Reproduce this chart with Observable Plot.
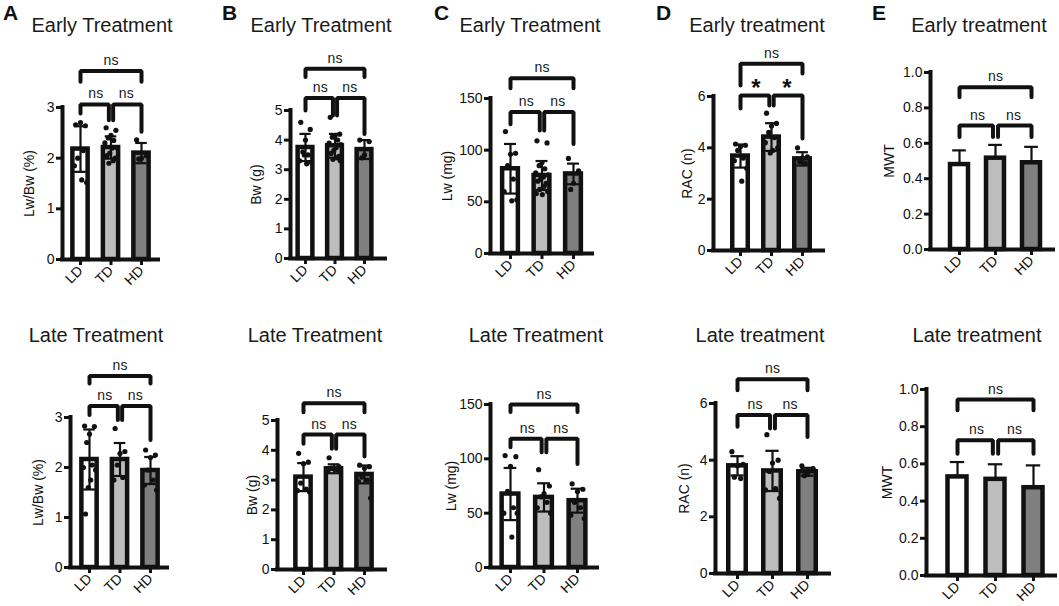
<!DOCTYPE html>
<html>
<head>
<meta charset="utf-8">
<script src="https://cdn.jsdelivr.net/npm/d3@7"></script>
<script src="https://cdn.jsdelivr.net/npm/@observablehq/plot@0.6"></script>
<style>
  html, body { margin: 0; padding: 0; background: #fff; }
  #fig { position: relative; width: 1059px; height: 606px; overflow: hidden; font-family: "Liberation Sans", Arial, Helvetica, sans-serif; color: #111; }
  .panel { position: absolute; }
  .title { position: absolute; font-size: 20px; line-height: 20px; white-space: nowrap; transform: translateX(-50%); color: #1a1a1a; }
  .letter { position: absolute; font-size: 21px; line-height: 21px; font-weight: bold; color: #111; }
</style>
</head>
<body>
<div id="fig"></div>
<script>
// ---------------- DATA ----------------
const groups = ["LD", "TD", "HD"];
const groupFills = ["#ffffff", "#bdbdbd", "#7f7f7f"];

// A — Lw/Bw (%)
const earlyLwBwMean = [2.18, 2.21, 2.10];
const earlyLwBwSD = [0.45, 0.22, 0.20];
const earlyLwBwPoints = [
  [2.66, 2.64, 2.70, 2.00, 2.15, 1.85, 1.52, 1.57],
  [2.60, 2.55, 2.45, 2.40, 2.35, 2.30, 2.20, 2.20, 2.10, 2.05, 2.00, 1.95, 1.90],
  [2.36, 2.05, 2.00, 1.98]
];
const lateLwBwMean = [2.16, 2.16, 1.94];
const lateLwBwSD = [0.60, 0.33, 0.27];
const lateLwBwPoints = [
  [2.83, 2.82, 2.67, 2.50, 2.05, 2.00, 1.95, 1.75, 1.60, 1.07],
  [2.78, 2.32, 2.28, 2.05, 1.80, 1.75],
  [2.35, 2.25, 2.20, 1.95, 1.75, 1.65, 1.55]
];

// B — Bw (g)
const earlyBwMean = [3.75, 3.81, 3.68];
const earlyBwSD = [0.46, 0.40, 0.32];
const earlyBwPoints = [
  [4.60, 4.36, 4.00, 3.60, 3.50, 3.30, 3.25, 3.20, 3.50],
  [4.77, 4.20, 4.15, 4.10, 4.00, 3.90, 3.85, 3.75, 3.65, 3.55, 3.45, 3.40, 3.35, 3.30],
  [4.00, 3.95, 3.50, 3.40]
];
const lateBwMean = [3.10, 3.38, 3.19];
const lateBwSD = [0.47, 0.15, 0.30];
const lateBwPoints = [
  [3.90, 3.60, 3.55, 2.90, 2.70, 2.65, 2.60],
  [3.75, 3.45, 3.40, 3.40, 3.35, 3.30, 3.30],
  [3.50, 3.45, 3.40, 3.10, 3.00, 2.95, 2.40]
];

// C — Lw (mg)
const earlyLwMean = [82, 75.5, 77];
const earlyLwSD = [24, 14, 10];
const earlyLwPoints = [
  [118, 97, 96, 85, 72, 60, 52, 51],
  [109, 107, 88, 85, 82, 78, 76, 74, 72, 70, 68, 65, 62, 60, 58, 57],
  [92, 80, 68, 62]
];
const lateLwMean = [67.6, 64.5, 61.5];
const lateLwSD = [24, 13, 11];
const lateLwPoints = [
  [103, 102, 93, 70, 55, 50, 50, 28],
  [90, 75, 68, 65, 60, 55, 50],
  [77, 72, 70, 60, 55, 48, 45]
];

// D — RAC (n)
const earlyRacMean = [3.68, 4.42, 3.57];
const earlyRacSD = [0.45, 0.54, 0.26];
const earlyRacPoints = [
  [4.15, 4.10, 4.05, 3.90, 3.60, 3.50, 3.20, 2.70],
  [5.35, 4.95, 4.85, 4.60, 4.40, 4.20, 4.00, 3.90, 3.80],
  [4.00, 3.65, 3.60, 3.45, 3.40]
];
const lateRacMean = [3.80, 3.62, 3.59];
const lateRacSD = [0.34, 0.71, 0.14];
const lateRacPoints = [
  [4.30, 3.85, 3.80, 3.40, 3.35],
  [4.90, 4.00, 3.90, 3.60, 3.00, 2.95, 2.65],
  [3.80, 3.70, 3.50, 3.45]
];

// E — MWT
const earlyMwtMean = [0.48, 0.516, 0.49];
const earlyMwtSD = [0.08, 0.075, 0.09];
const lateMwtMean = [0.53, 0.517, 0.472];
const lateMwtSD = [0.08, 0.081, 0.12];

// significance labels: [LD–HD, LD–TD, TD–HD]
const sigEarlyLwBw = ["ns", "ns", "ns"];
const sigLateLwBw = ["ns", "ns", "ns"];
const sigEarlyBw = ["ns", "ns", "ns"];
const sigLateBw = ["ns", "ns", "ns"];
const sigEarlyLw = ["ns", "ns", "ns"];
const sigLateLw = ["ns", "ns", "ns"];
const sigEarlyRac = ["ns", "*", "*"];
const sigLateRac = ["ns", "ns", "ns"];
const sigEarlyMwt = ["ns", "ns", "ns"];
const sigLateMwt = ["ns", "ns", "ns"];

// y ticks
const ticksLwBw = [0, 1, 2, 3];
const ticksBw = [0, 1, 2, 3, 4, 5];
const ticksLw = [0, 50, 100, 150];
const ticksRac = [0, 2, 4, 6];
const ticksMwt = [0, 0.2, 0.4, 0.6, 0.8, 1.0];

// ---------------- LAYOUT ----------------
// page-pixel geometry per panel; bracket heights in data units:
// br: [[h, footFrom, footTo] for LD–HD, LD–TD, TD–HD]
const panels = [
  {letter: "A", title: "Early Treatment", tx: 102, row: 0, left: 0, w: 210,
   axisX: 62, xEnd: 158, yZero: 259, yTop: 107, cLD: 80, cHD: 141, labelLeft: 24,
   mean: earlyLwBwMean, sd: earlyLwBwSD, pts: earlyLwBwPoints, sig: sigEarlyLwBw, ticks: ticksLwBw, yMax: 3, ylabel: "Lw/Bw (%)",
   br: [[3.72, 3.51, 3.51], [3.06, 2.88, 2.75], [3.06, 2.75, 2.52]]},
  {letter: "B", title: "Early Treatment", tx: 321, row: 0, left: 210, w: 210,
   axisX: 290, xEnd: 385, yZero: 258, yTop: 110, cLD: 305, cHD: 364, labelLeft: 251,
   mean: earlyBwMean, sd: earlyBwSD, pts: earlyBwPoints, sig: sigEarlyBw, ticks: ticksBw, yMax: 5, ylabel: "Bw (g)",
   br: [[6.41, 6.13, 6.13], [5.42, 5.0, 4.83], [5.42, 4.83, 4.21]]},
  {letter: "C", title: "Early Treatment", tx: 530, row: 0, left: 420, w: 210,
   axisX: 490, xEnd: 592, yZero: 253, yTop: 98, cLD: 510, cHD: 573, labelLeft: 442,
   mean: earlyLwMean, sd: earlyLwSD, pts: earlyLwPoints, sig: sigEarlyLw, ticks: ticksLw, yMax: 150, ylabel: "Lw (mg)",
   br: [[169.6, 160, 160], [137, 125, 119], [137, 119, 106]]},
  {letter: "D", title: "Early treatment", tx: 757, row: 0, left: 630, w: 210,
   axisX: 713, xEnd: 823, yZero: 250, yTop: 96, cLD: 740, cHD: 802, labelLeft: 682,
   mean: earlyRacMean, sd: earlyRacSD, pts: earlyRacPoints, sig: sigEarlyRac, ticks: ticksRac, yMax: 6, ylabel: "RAC (n)",
   br: [[7.28, 6.43, 6.9], [6.04, 5.53, 5.65], [6.04, 5.65, 4.36]]},
  {letter: "E", title: "Early treatment", tx: 979, row: 0, left: 840, w: 219,
   axisX: 930, xEnd: 1053, yZero: 249, yTop: 72, cLD: 959, cHD: 1031, labelLeft: 884,
   mean: earlyMwtMean, sd: earlyMwtSD, pts: null, sig: sigEarlyMwt, ticks: ticksMwt, yMax: 1, ylabel: "MWT", fmt: ".1f",
   br: [[0.917, 0.86, 0.86], [0.70, 0.635, 0.635], [0.70, 0.635, 0.635]]},

  {letter: "", title: "Late Treatment", tx: 96, row: 1, left: 0, w: 210,
   axisX: 70, xEnd: 167, yZero: 567, yTop: 417, cLD: 89, cHD: 150, labelLeft: 33,
   mean: lateLwBwMean, sd: lateLwBwSD, pts: lateLwBwPoints, sig: sigLateLwBw, ticks: ticksLwBw, yMax: 3, ylabel: "Lw/Bw (%)",
   br: [[3.83, 3.68, 3.68], [3.23, 3.05, 2.95], [3.23, 2.95, 2.55]]},
  {letter: "", title: "Late Treatment", tx: 315, row: 1, left: 210, w: 210,
   axisX: 277, xEnd: 385, yZero: 569, yTop: 420, cLD: 303, cHD: 364, labelLeft: 247,
   mean: lateBwMean, sd: lateBwSD, pts: lateBwPoints, sig: sigLateBw, ticks: ticksBw, yMax: 5, ylabel: "Bw (g)",
   br: [[5.58, 5.28, 5.28], [4.53, 4.22, 4.05], [4.53, 4.05, 3.79]]},
  {letter: "", title: "Late Treatment", tx: 536, row: 1, left: 420, w: 210,
   axisX: 490, xEnd: 597, yZero: 567, yTop: 404, cLD: 510, cHD: 577, labelLeft: 446,
   mean: lateLwMean, sd: lateLwSD, pts: lateLwPoints, sig: sigLateLw, ticks: ticksLw, yMax: 150, ylabel: "Lw (mg)",
   br: [[150, 143, 143], [118.4, 110.7, 106], [118.4, 106, 95.3]]},
  {letter: "", title: "Late treatment", tx: 760, row: 1, left: 630, w: 210,
   axisX: 715, xEnd: 829, yZero: 573, yTop: 403, cLD: 737, cHD: 807, labelLeft: 679,
   mean: lateRacMean, sd: lateRacSD, pts: lateRacPoints, sig: sigLateRac, ticks: ticksRac, yMax: 6, ylabel: "RAC (n)",
   br: [[6.86, 6.47, 6.47], [5.59, 5.18, 5.12], [5.59, 5.12, 4.82]]},
  {letter: "", title: "Late treatment", tx: 977, row: 1, left: 840, w: 219,
   axisX: 926, xEnd: 1055, yZero: 575, yTop: 389, cLD: 957, cHD: 1033, labelLeft: 882,
   mean: lateMwtMean, sd: lateMwtSD, pts: null, sig: sigLateMwt, ticks: ticksMwt, yMax: 1, ylabel: "MWT", fmt: ".1f",
   br: [[0.946, 0.889, 0.889], [0.727, 0.655, 0.655], [0.727, 0.655, 0.655]]}
];

const rowTop = [0, 300];
const rowH = [300, 306];
const titleTop = [15, 325];
const letterPos = {A: 3, B: 222, C: 434, D: 656, E: 872};

// deterministic horizontal spread of dots inside each bar
const spread = [-0.16, 0.16, 0, -0.09, 0.09, -0.2, 0.2, 0.04, -0.04, -0.13, 0.13, 0.07, -0.07, 0.18, -0.18, 0.01];

const fig = document.getElementById("fig");
const FONT = '"Liberation Sans", Arial, Helvetica, sans-serif';

for (const p of panels) {
  const top = rowTop[p.row], h = rowH[p.row];
  const idx = [0, 1, 2];
  const bars = idx.map(i => ({i, mean: p.mean[i], sd: p.sd[i], fill: groupFills[i]}));
  const dots = p.pts ? p.pts.flatMap((arr, i) => arr.map((v, k) => ({x: i + spread[k % spread.length], y: v}))) : [];
  const pairs = [[0, 2], [0, 1], [1, 2]];
  const brackets = pairs.map(([a, b], k) => {
    const offA = a === 1 ? 0.07 : 0, offB = b === 1 ? -0.07 : 0;
    const [hh, fA, fB] = p.br[k];
    return {k, a, b, xa: a + offA, xb: b + offB, h: hh, fA, fB, label: p.sig[k]};
  });
  const bracketPts = brackets.flatMap(d => [
    {k: d.k, x: d.xa, y: d.fA}, {k: d.k, x: d.xa, y: d.h},
    {k: d.k, x: d.xb, y: d.h}, {k: d.k, x: d.xb, y: d.fB}
  ]);
  const onlyUp = !p.pts;
  const axisData = (p.axisX - p.cLD) / (p.cHD - p.cLD) * 2;
  const fmt = p.fmt ? d3.format(p.fmt) : d3.format("d");
  const halfBar = 0.25, halfCap = 0.19;

  const chart = Plot.plot({
    width: p.w,
    height: h,
    marginLeft: p.axisX - p.left,
    marginRight: p.left + p.w - p.xEnd,
    marginTop: p.yTop - top,
    marginBottom: top + h - p.yZero,
    x: {type: "linear", domain: [0, 2], range: [p.cLD - p.left, p.cHD - p.left]},
    y: {domain: [0, p.yMax]},
    style: {fontFamily: FONT, fontSize: "14px", color: "#111", background: "transparent"},
    marks: [
      Plot.rectY(bars, {x1: d => d.i - halfBar, x2: d => d.i + halfBar, y1: 0, y2: "mean", fill: "fill", stroke: "#111", strokeWidth: 4.5}),
      Plot.ruleX(bars, {x: "i", y1: d => onlyUp ? d.mean : d.mean - d.sd, y2: d => d.mean + d.sd, stroke: "#111", strokeWidth: 2.2}),
      Plot.ruleY(bars, {y: d => d.mean + d.sd, x1: d => d.i - halfCap, x2: d => d.i + halfCap, stroke: "#111", strokeWidth: 2.2}),
      onlyUp ? null : Plot.ruleY(bars, {y: d => d.mean - d.sd, x1: d => d.i - halfCap, x2: d => d.i + halfCap, stroke: "#111", strokeWidth: 2.2}),
      Plot.dot(dots, {x: "x", y: "y", r: 2.6, fill: "#111", stroke: "none"}),
      Plot.line(bracketPts, {x: "x", y: "y", z: "k", stroke: "#111", strokeWidth: 4, strokeLinejoin: "miter", curve: "linear"}),
      Plot.text(brackets.filter(d => d.label !== "*"), {x: d => (d.a + d.b) / 2, y: "h", text: "label", lineAnchor: "bottom", dy: -6, fontSize: 14, fill: "#1a1a1a"}),
      Plot.text(brackets.filter(d => d.label === "*"), {x: d => (d.a + d.b) / 2, y: "h", text: "label", lineAnchor: "bottom", dy: 1, fontSize: 24, fontWeight: "bold", fill: "#111"}),
      Plot.ruleX([axisData], {stroke: "#111", strokeWidth: 4, strokeLinecap: "square"}),
      Plot.ruleY([0], {stroke: "#111", strokeWidth: 4, strokeLinecap: "square"}),
      Plot.axisY({ticks: p.ticks, tickFormat: fmt, tickSize: 6, tickPadding: 2, strokeWidth: 3, fontSize: 14,
                  label: p.ylabel, labelAnchor: "center", labelArrow: "none", labelOffset: p.axisX - p.labelLeft}),
      Plot.axisX({ticks: idx, tickFormat: i => groups[i], tickRotate: -45, tickSize: 6, tickPadding: 3, strokeWidth: 3, fontSize: 14, label: null})
    ]
  });
  chart.classList.add("panel");
  chart.style.left = p.left + "px";
  chart.style.top = top + "px";
  chart.style.overflow = "visible";
  fig.appendChild(chart);

  const t = document.createElement("div");
  t.className = "title";
  t.textContent = p.title;
  t.style.left = p.tx + "px";
  t.style.top = titleTop[p.row] + "px";
  fig.appendChild(t);

  if (p.letter) {
    const L = document.createElement("div");
    L.className = "letter";
    L.textContent = p.letter;
    L.style.left = letterPos[p.letter] + "px";
    L.style.top = "2px";
    fig.appendChild(L);
  }
}
</script>
</body>
</html>
